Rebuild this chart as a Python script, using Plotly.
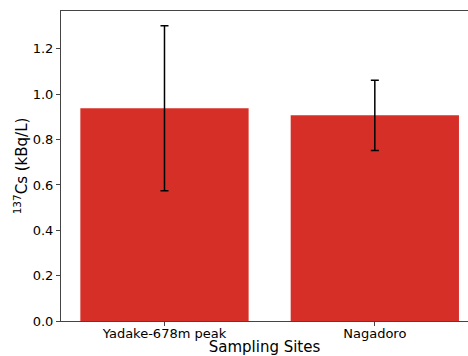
import plotly.graph_objects as go

sites = ["Yadake-678m peak", "Nagadoro"]
cs137 = [0.938, 0.907]
cs137_err = [0.364, 0.155]
y_ticks = [0.0, 0.2, 0.4, 0.6, 0.8, 1.0, 1.2]

fig = go.Figure(go.Bar(
    x=[0, 1], y=cs137,
    width=0.8,
    marker=dict(color="rgb(214,47,39)", line=dict(width=0)),
    error_y=dict(type="data", array=cs137_err, visible=True,
                 color="black", thickness=1.5, width=4),
    hoverinfo="skip",
))

fig.update_layout(
    width=468, height=356,
    margin=dict(l=61, r=0, t=11, b=35),
    paper_bgcolor="white", plot_bgcolor="white",
    font=dict(family="DejaVu Sans", size=13, color="black"),
    showlegend=False,
)
fig.update_xaxes(
    range=[-0.492, 1.443], automargin=False,
    tickmode="array", tickvals=[0, 1], ticktext=sites,
    ticklabelstandoff=-4,
    showline=True, linecolor="#444", linewidth=1, mirror=True,
    ticks="outside", ticklen=4, tickcolor="#444",
    showgrid=False, zeroline=False,
    title=dict(text="Sampling Sites", font=dict(size=15)),
)
fig.update_yaxes(
    range=[0, 1.367], automargin=True,
    tickmode="array", tickvals=y_ticks, ticktext=[f"{v:.1f}" for v in y_ticks],
    showline=True, linecolor="#444", linewidth=1,
    ticks="outside", ticklen=4, tickcolor="#444",
    showgrid=False, zeroline=False,
    title=dict(text="<sup>137</sup>Cs (kBq/L)", font=dict(size=15), standoff=1),
)

fig.write_html("out.html", config={"displayModeBar": False},
               post_script="document.body.style.margin='0';")
